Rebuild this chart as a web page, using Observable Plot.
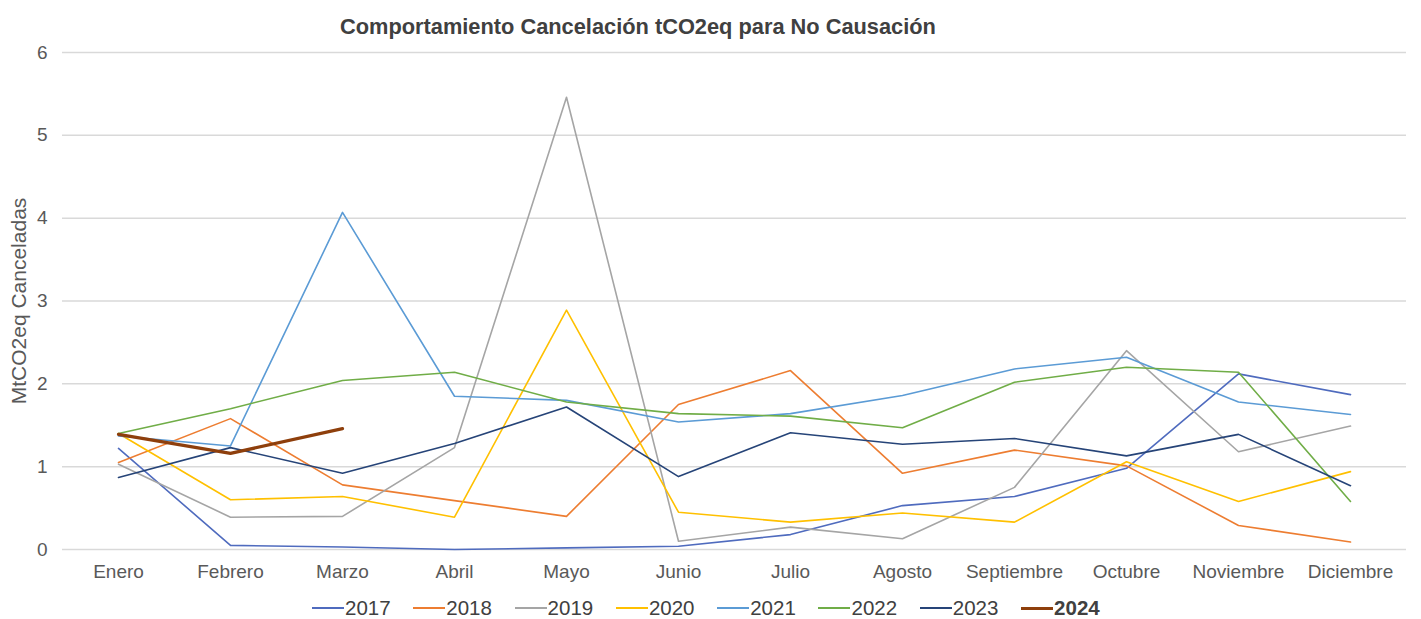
<!DOCTYPE html>
<html>
<head>
<meta charset="utf-8">
<script src="https://cdn.jsdelivr.net/npm/d3@7"></script>
<script src="https://cdn.jsdelivr.net/npm/@observablehq/plot@0.6"></script>
<style>
  html, body { margin: 0; padding: 0; background: #ffffff; }
  body { width: 1421px; height: 619px; overflow: hidden; font-family: "Liberation Sans", Arial, sans-serif; }
  #title { height: 37px; box-sizing: border-box; padding-top: 17px; line-height: 20px; padding-left: 340px;
           font-size: 21.8px; font-weight: bold; color: #404040; white-space: nowrap; }
  #legend { margin-top: 9px; line-height: 24px; height: 24px; padding-left: 312px; display: flex; align-items: center;
            font-size: 20.5px; color: #404040; }
  .item { display: flex; align-items: center; width: 101.3px; flex: none; }
  .sw { width: 32px; margin-right: 1px; }
</style>
</head>
<body>
<div id="title">Comportamiento Cancelación tCO2eq para No Causación</div>
<div id="chart"></div>
<div id="legend"></div>
<script>
const months = ["Enero","Febrero","Marzo","Abril","Mayo","Junio","Julio","Agosto","Septiembre","Octubre","Noviembre","Diciembre"];
const years = ["2017","2018","2019","2020","2021","2022","2023","2024"];
const colors = ["#4F6BBE","#ED7D31","#A5A5A5","#FFC000","#5B9BD5","#70AD47","#264478","#8E3F0C"];
const yTicks = [0,1,2,3,4,5,6];
const yLabel = "MtCO2eq Canceladas";

const v2017 = [1.22, 0.05, 0.03, 0.00, 0.02, 0.04, 0.18, 0.53, 0.64, 0.98, 2.12, 1.87];
const v2018 = [1.05, 1.58, 0.78, 0.59, 0.40, 1.75, 2.16, 0.92, 1.20, 1.01, 0.29, 0.09];
const v2019 = [1.03, 0.39, 0.40, 1.23, 5.46, 0.10, 0.27, 0.13, 0.75, 2.40, 1.18, 1.49];
const v2020 = [1.40, 0.60, 0.64, 0.39, 2.89, 0.45, 0.33, 0.44, 0.33, 1.06, 0.58, 0.94];
const v2021 = [1.37, 1.25, 4.07, 1.85, 1.80, 1.54, 1.64, 1.86, 2.18, 2.32, 1.78, 1.63];
const v2022 = [1.40, 1.70, 2.04, 2.14, 1.78, 1.64, 1.61, 1.47, 2.02, 2.20, 2.14, 0.58];
const v2023 = [0.87, 1.23, 0.92, 1.28, 1.72, 0.88, 1.41, 1.27, 1.34, 1.13, 1.39, 0.77];
const v2024 = [1.39, 1.16, 1.46];

const seriesValues = [v2017, v2018, v2019, v2020, v2021, v2022, v2023, v2024];
const rows = [];
years.forEach((yr, i) => {
  seriesValues[i].forEach((v, j) => rows.push({year: yr, month: months[j], value: v}));
});
const rowsThin = rows.filter(d => d.year !== "2024");
const rowsThick = rows.filter(d => d.year === "2024");

const font = '"Liberation Sans", Arial, sans-serif';

const chart = Plot.plot({
  width: 1421,
  height: 550,
  marginLeft: 62,
  marginRight: 15,
  marginTop: 15,
  marginBottom: 38,
  style: { fontFamily: font, fontSize: "19px", color: "#595959", background: "transparent", overflow: "visible" },
  x: { type: "point", domain: months, padding: 0.5, label: null },
  y: { domain: [0, 6], label: null },
  color: { domain: years, range: colors },
  marks: [
    Plot.gridY(yTicks, { stroke: "#d9d9d9", strokeOpacity: 1, strokeWidth: 1.5 }),
    Plot.axisY(yTicks, { tickSize: 0, tickPadding: 15, fontSize: 19, fill: "#595959", label: null, tickFormat: d => String(d) }),
    Plot.axisX(months, { tickSize: 0, tickPadding: 15, fontSize: 19, fill: "#595959", label: null }),
    Plot.text([yLabel], { frameAnchor: "left", textAnchor: "middle", lineAnchor: "middle", dx: -43, rotate: -90, fontSize: 21, fill: "#595959" }),
    Plot.line(rowsThin, { x: "month", y: "value", z: "year", stroke: "year", strokeWidth: 1.6 }),
    Plot.line(rowsThick, { x: "month", y: "value", z: "year", stroke: "year", strokeWidth: 3.2 })
  ]
});
document.getElementById("chart").appendChild(chart);

const legend = document.getElementById("legend");
years.forEach((yr, i) => {
  const item = document.createElement("div");
  item.className = "item";
  const sw = document.createElement("div");
  sw.className = "sw";
  const thick = yr === "2024";
  sw.style.height = (thick ? 3 : 2) + "px";
  sw.style.background = colors[i];
  const t = document.createElement("span");
  t.textContent = yr;
  if (thick) t.style.fontWeight = "bold";
  item.appendChild(sw);
  item.appendChild(t);
  legend.appendChild(item);
});
</script>
</body>
</html>
